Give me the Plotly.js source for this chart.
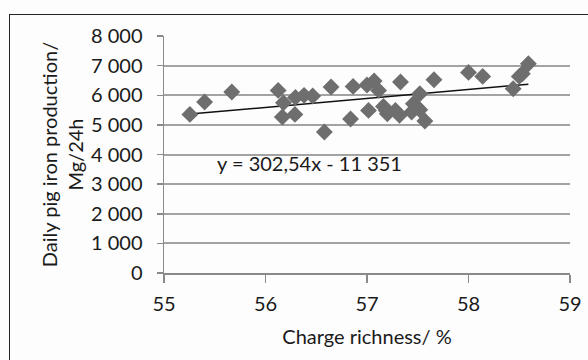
<!DOCTYPE html>
<html>
<head>
<meta charset="utf-8">
<script src="https://cdn.plot.ly/plotly-3.0.1.min.js"></script>
<style>
html,body{margin:0;padding:0;background:#fdfdfd;overflow:hidden;}
#frame{position:absolute;left:9px;top:14px;width:590px;height:360px;border:1.5px solid #222;box-sizing:border-box;}
#chart{position:absolute;left:0;top:0;width:588px;height:360px;}
</style>
</head>
<body>
<div id="frame"></div>
<div id="chart"></div>
<script>
const chargeRichness = [55.255, 55.40, 55.668, 56.125, 56.177, 56.166, 56.29, 56.295, 56.38, 56.465,
  56.58, 56.646, 56.838, 56.863, 57.0, 57.015, 57.07, 57.114, 57.162, 57.19,
  57.2, 57.28, 57.32, 57.33, 57.44, 57.457, 57.49, 57.52, 57.52, 57.57,
  57.66, 58.0, 58.14, 58.44, 58.50, 58.53, 58.59];
const production = [5354, 5770, 6108, 6164, 5748, 5264, 5354, 5928, 5996, 5973,
  4758, 6277, 5197, 6299, 6344, 5489, 6479, 6164, 5624, 5489,
  5377, 5489, 5321, 6445, 5433, 5714, 5602, 6052, 5512, 5129,
  6524, 6772, 6637, 6220, 6637, 6727, 7064];
const slope = 302.54;
const intercept = -11351;
const equationText = "y = 302,54x - 11 351";
const yTickVals = [0, 1000, 2000, 3000, 4000, 5000, 6000, 7000, 8000];
const yTickText = ["0", "1 000", "2 000", "3 000", "4 000", "5 000", "6 000", "7 000", "8 000"];
const xTickVals = [55, 56, 57, 58, 59];

const xMin = Math.min(...chargeRichness), xMax = Math.max(...chargeRichness);
const trendX = [xMin, xMax];
const trendY = trendX.map(x => slope * x + intercept);

const font = "Lato, 'Open Sans', sans-serif";
const txt = '#1a1a1a';
const data = [
  {x: trendX, y: trendY, type: 'scatter', mode: 'lines',
   line: {color: '#111', width: 1.5}, hoverinfo: 'skip'},
  {x: chargeRichness, y: production, type: 'scatter', mode: 'markers',
   marker: {symbol: 'diamond', size: 13, color: '#6e6e6e'}}
];
const layout = {
  width: 588, height: 360,
  margin: {l: 164, r: 18, t: 36, b: 87},
  paper_bgcolor: 'rgba(0,0,0,0)', plot_bgcolor: 'rgba(0,0,0,0)',
  showlegend: false,
  font: {family: font, size: 20, color: txt},
  xaxis: {range: [55, 59], tickvals: xTickVals, showgrid: false, zeroline: false,
    showline: true, linecolor: '#8a8a8a', linewidth: 1.5,
    ticks: 'outside', ticklen: 8, tickcolor: '#8a8a8a', tickwidth: 1.5,
    ticklabelstandoff: 4,
    tickfont: {family: font, size: 20, color: txt},
    title: {text: 'Charge richness/ %', font: {family: font, size: 20, color: txt}, standoff: 16}},
  yaxis: {range: [0, 8000], tickvals: yTickVals, ticktext: yTickText,
    showgrid: true, gridcolor: '#a3a3a3', gridwidth: 2, zeroline: false,
    showline: true, linecolor: '#8a8a8a', linewidth: 1.5,
    ticks: 'outside', ticklen: 6, tickcolor: '#8a8a8a', tickwidth: 1.5,
    ticklabelstandoff: 10,
    tickfont: {family: font, size: 20, color: txt},
    title: {text: 'Daily pig iron production/<br>Mg/24h', font: {family: font, size: 20, color: txt}, standoff: 2}},
  annotations: [{x: 56.43, y: 3730, xref: 'x', yref: 'y', text: equationText, showarrow: false,
    font: {family: font, size: 20, color: txt}}]
};
Plotly.newPlot('chart', data, layout, {staticPlot: true, displayModeBar: false});
</script>
</body>
</html>
